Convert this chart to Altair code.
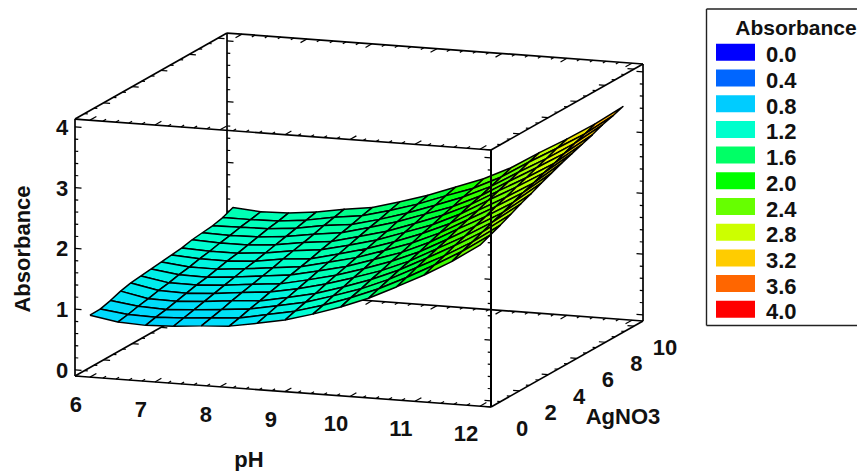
import altair as alt
import pandas as pd

PH = [6 + 6 * i / 14 for i in range(15)]
AG = [10 * j / 14 for j in range(15)]
# Absorbance, one list per pH step, AgNO3 rising along each list
Z = [
 [.92,.925,.97,1.03,1.07,1.09,1.11,1.13,1.15,1.17,1.21,1.23,1.25,1.29,1.36],
 [.84,.87,.91,.94,.98,1.01,1.05,1.08,1.12,1.15,1.19,1.22,1.26,1.29,1.325],
 [.82,.86,.89,.93,.97,1.01,1.04,1.08,1.12,1.15,1.19,1.23,1.27,1.30,1.34],
 [.84,.88,.92,.96,1.0,1.04,1.08,1.12,1.15,1.19,1.23,1.27,1.31,1.35,1.39],
 [.88,.92,.96,1.01,1.05,1.09,1.13,1.17,1.22,1.26,1.30,1.34,1.39,1.43,1.47],
 [.91,.95,1.0,1.04,1.09,1.13,1.18,1.22,1.26,1.31,1.35,1.40,1.44,1.49,1.53],
 [.99,1.04,1.09,1.13,1.18,1.23,1.28,1.33,1.37,1.42,1.47,1.52,1.56,1.61,1.66],
 [1.08,1.13,1.18,1.23,1.29,1.34,1.39,1.44,1.49,1.54,1.59,1.65,1.70,1.75,1.80],
 [1.21,1.26,1.32,1.37,1.43,1.48,1.54,1.59,1.64,1.70,1.75,1.81,1.86,1.92,1.97],
 [1.36,1.42,1.47,1.53,1.58,1.64,1.69,1.75,1.81,1.86,1.92,1.97,2.03,2.08,2.14],
 [1.54,1.60,1.66,1.72,1.77,1.83,1.89,1.95,2.01,2.07,2.13,2.18,2.24,2.30,2.36],
 [1.76,1.82,1.89,1.95,2.01,2.07,2.14,2.20,2.26,2.33,2.39,2.45,2.51,2.58,2.64],
 [1.99,2.06,2.12,2.19,2.25,2.32,2.38,2.45,2.51,2.58,2.64,2.71,2.77,2.84,2.90],
 [2.25,2.32,2.38,2.45,2.52,2.58,2.65,2.72,2.78,2.85,2.91,2.98,3.05,3.11,3.18],
 [2.55,2.62,2.69,2.77,2.85,2.92,3.0,3.07,3.14,3.2,3.26,3.32,3.39,3.44,3.50],
]
LEGEND_VALUES = [0.0, 0.4, 0.8, 1.2, 1.6, 2.0, 2.4, 2.8, 3.2, 3.6, 4.0]
LEGEND_COLORS = ["#0000ff", "#0066ff", "#00ccff", "#00ffcc", "#00ff66", "#00ff00",
                 "#66ff00", "#ccff00", "#ffcc00", "#ff6600", "#ff0000"]
PH_TICKS = [6, 7, 8, 9, 10, 11, 12]
AG_TICKS = [0, 2, 4, 6, 8, 10]
Z_TICKS = [0, 1, 2, 3, 4]

PH0, PH1 = 5.77, 12.17
AG0, AG1 = 0.0, 10.63
Z0, Z1 = -0.1, 4.13
FONT = "Liberation Sans"
FS = 22


def proj(p, a, z):
    """Oblique projection of the 3-D box on to the page."""
    dp, da, dz = p - PH0, a - AG0, z - Z0
    return 75 + 65 * dp + 14.3 * da, 376 + 4.84 * dp - 8.09 * da - 60.75 * dz


def seg(a, b):
    x, y = proj(*a)
    x2, y2 = proj(*b)
    return {"x": x, "y": y, "x2": x2, "y2": y2}


# Box edges
back_edges = [
    seg((PH0, AG0, Z1), (PH1, AG0, Z1)), seg((PH0, AG1, Z1), (PH1, AG1, Z1)),
    seg((PH0, AG0, Z1), (PH0, AG1, Z1)), seg((PH1, AG0, Z1), (PH1, AG1, Z1)),
    seg((PH0, AG0, Z0), (PH1, AG0, Z0)), seg((PH0, AG1, Z0), (PH1, AG1, Z0)),
    seg((PH0, AG0, Z0), (PH0, AG1, Z0)), seg((PH1, AG0, Z0), (PH1, AG1, Z0)),
    seg((PH0, AG0, Z0), (PH0, AG0, Z1)), seg((PH0, AG1, Z0), (PH0, AG1, Z1)),
    seg((PH1, AG1, Z0), (PH1, AG1, Z1)),
]
front_edge = [seg((PH1, AG0, Z0), (PH1, AG0, Z1))]

# Tick marks
ticks = []
k = 0
while k <= 21:
    z = 0.2 * k
    if z <= Z1:
        L = 0.10 if k % 5 == 0 else 0.05
        for ag, s, pv in [(AG0, 1, PH0), (AG1, 1, PH0), (AG0, -1, PH1), (AG1, -1, PH1)]:
            ticks.append(seg((pv, ag, z), (pv + s * L, ag, z)))
    k += 1
for k in range(0, 32):
    p = 6 + 0.2 * k
    if p <= PH1:
        L = 0.45 if k % 5 == 0 else 0.22
        for z in (Z0, Z1):
            ticks.append(seg((p, AG0, z), (p, AG0 + L, z)))
            ticks.append(seg((p, AG1, z), (p, AG1 - L, z)))
for k in range(0, 16):
    a = k * 2 / 3
    if a <= AG1:
        L = 0.10 if k % 3 == 0 else 0.05
        for z in (Z0, Z1):
            ticks.append(seg((PH0, a, z), (PH0 + L, a, z)))
            ticks.append(seg((PH1, a, z), (PH1 - L, a, z)))

# Surface cells, far ones first
rows = []
cid = 0
for j in range(13, -1, -1):
    for i in range(14):
        corners = [(i, j), (i + 1, j), (i + 1, j + 1), (i, j + 1), (i, j)]
        mean = sum(Z[u][v] for u, v in corners[:4]) / 4
        for n, (u, v) in enumerate(corners):
            x, y = proj(PH[u], AG[v], Z[u][v])
            rows.append({"x": x, "y": y, "cell": cid, "n": n, "value": mean})
        cid += 1
surface = pd.DataFrame(rows)

xs = alt.Scale(domain=[8, 857], nice=False, zero=False)
ys = alt.Scale(domain=[471, 8], nice=False, zero=False)
X = alt.X("x:Q", scale=xs, axis=None)
Y = alt.Y("y:Q", scale=ys, axis=None)
cscale = alt.Scale(domain=LEGEND_VALUES, range=LEGEND_COLORS)


def rules(data, w, color="black"):
    return alt.Chart(pd.DataFrame(data)).mark_rule(color=color, strokeWidth=w).encode(
        x=X, y=Y, x2="x2:Q", y2="y2:Q")


def texts(data, size=FS, **kw):
    return alt.Chart(pd.DataFrame(data)).mark_text(
        font=FONT, fontSize=size, fontWeight="bold", color="#111111", baseline="middle", **kw
    ).encode(x=X, y=Y, text="t:N")


surf = alt.Chart(surface).mark_line(
    filled=True, stroke="black", strokeWidth=1.5, opacity=1, strokeJoin="round"
).encode(
    x=X, y=Y, detail="cell:N", order="n:Q",
    color=alt.Color("value:Q", scale=cscale, legend=None),
)

z_lab = [{"x": 62, "y": proj(PH0, AG0, v)[1] + 1, "t": str(v)} for v in Z_TICKS]
ph_lab = [{"x": proj(v, AG0, Z0)[0] - 14, "y": proj(v, AG0, Z0)[1] + 28, "t": str(v)} for v in PH_TICKS]
ag_lab = [{"x": proj(PH1, v, Z0)[0] + 31, "y": proj(PH1, v, Z0)[1] + 22, "t": str(v)} for v in AG_TICKS]
titles = [{"x": 249, "y": 460, "t": "pH"}, {"x": 623, "y": 417, "t": "AgNO3"}]
ytitle = [{"x": 23, "y": 249, "t": "Absorbance"}]

LEG_Y = [52.3 + 25.7 * k for k in range(len(LEGEND_VALUES))]
leg = pd.DataFrame({
    "x": [716] * 11, "x2": [755] * 11,
    "y": [v - 8.5 for v in LEG_Y], "y2": [v + 8.5 for v in LEG_Y],
    "value": LEGEND_VALUES,
})
leg_frame = rules([
    {"x": 706.5, "x2": 857, "y": 9, "y2": 9},
    {"x": 706.5, "x2": 857, "y": 325.5, "y2": 325.5},
    {"x": 706.5, "x2": 706.5, "y": 9, "y2": 325.5},
], 1.4, "#222222")
leg_sw = alt.Chart(leg).mark_rect().encode(
    x=X, x2="x2:Q", y=Y, y2="y2:Q", color=alt.Color("value:Q", scale=cscale, legend=None))
leg_lab = [{"x": 766, "y": y + 3, "t": f"{v:.1f}"} for v, y in zip(LEGEND_VALUES, LEG_Y)]
leg_title = [{"x": 796, "y": 29, "t": "Absorbance"}]

chart = alt.layer(
    rules(back_edges, 1.7),
    rules(ticks, 1.2),
    surf,
    rules(front_edge, 2.0),
    texts(z_lab, align="center"),
    texts(ph_lab, align="center"),
    texts(ag_lab, align="center"),
    texts(titles, align="center"),
    texts(ytitle, align="center", angle=270),
    leg_frame,
    leg_sw,
    texts(leg_lab, align="left"),
    texts(leg_title, size=21, align="center"),
).properties(
    width=849, height=463, padding=0,
    autosize=alt.AutoSizeParams(type="none"),
).configure_view(stroke=None)

chart.save("out.html", embed_options={"renderer": "svg", "actions": False})
